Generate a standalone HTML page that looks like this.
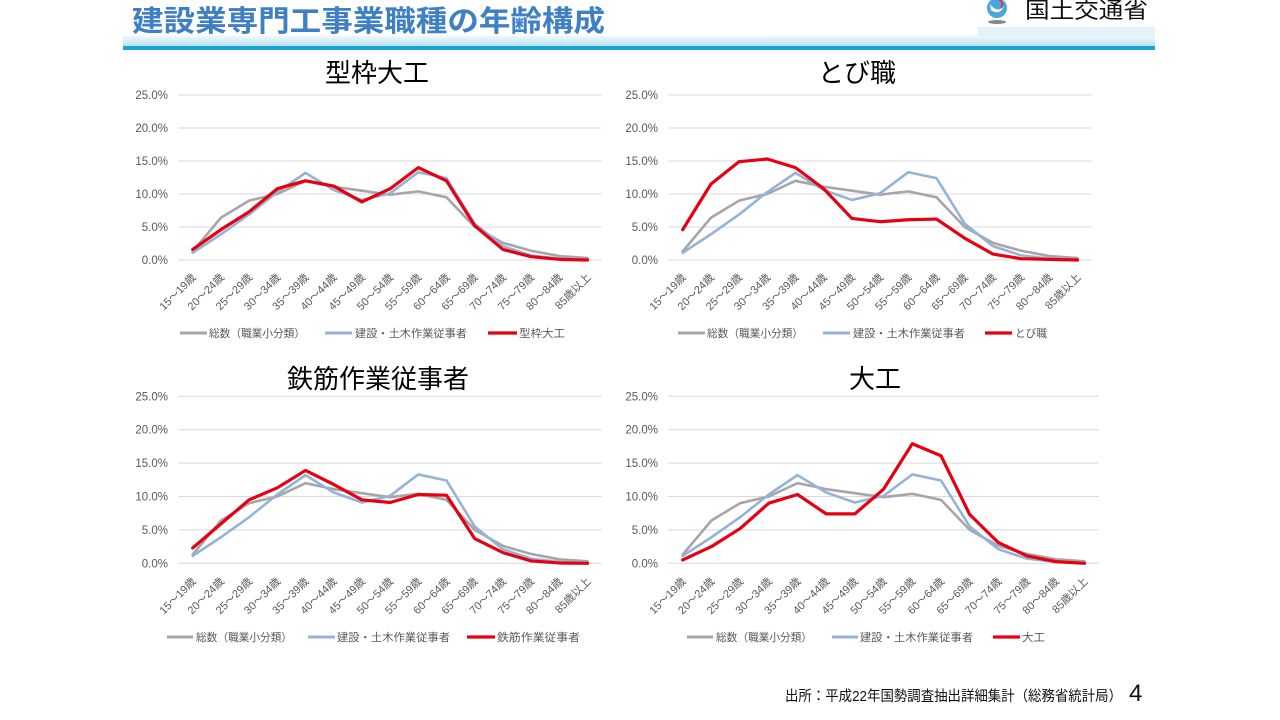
<!DOCTYPE html>
<html><head><meta charset="utf-8"><style>
html,body{margin:0;padding:0;background:#fff;}
svg{display:block;}
.ax{font-family:"Liberation Sans","Noto Sans CJK JP",sans-serif;font-size:11.5px;fill:#595959;}
.xl{font-family:"Liberation Sans","Noto Sans CJK JP",sans-serif;font-size:11px;fill:#595959;}
.lg{font-family:"Liberation Sans","Noto Sans CJK JP",sans-serif;font-size:11px;fill:#595959;}
.tt{font-family:"Liberation Sans","Noto Sans CJK JP",sans-serif;font-size:26px;fill:#000;}
.g{fill:none;stroke:#a6a6a6;stroke-width:2.6;stroke-linejoin:round;stroke-linecap:round;}
.b{fill:none;stroke:#95b3d7;stroke-width:2.6;stroke-linejoin:round;stroke-linecap:round;}
.r{fill:none;stroke:#e60012;stroke-width:3.2;stroke-linejoin:round;stroke-linecap:round;}
.grid line{stroke:#d9d9d9;stroke-width:1;}
</style></head><body>
<svg width="1280" height="720" viewBox="0 0 1280 720" xmlns="http://www.w3.org/2000/svg">
<defs>
<linearGradient id="band" x1="0" y1="0" x2="0" y2="1">
<stop offset="0" stop-color="#eef8fd"/><stop offset="0.5" stop-color="#d3ecf8"/><stop offset="1" stop-color="#b4dff1"/>
</linearGradient>
</defs>
<!-- Header -->
<rect x="978" y="27" width="177" height="10" fill="#e4f3fb"/>
<rect x="123" y="36" width="1032" height="11" fill="url(#band)"/>
<rect x="123" y="46" width="1032" height="4" fill="#1aa3d5"/>
<text x="132" y="31" textLength="473" lengthAdjust="spacingAndGlyphs" style="font-family:'Liberation Sans','Noto Sans CJK JP',sans-serif;font-weight:bold;font-size:29px;fill:#3f7fc6;stroke:#fff;stroke-width:0.6;paint-order:stroke;">建設業専門工事業職種の年齢構成</text>
<circle cx="997" cy="8" r="10" fill="#4aa6de"/>
<path d="M990 4 Q997 14 1004 6 Q1000 16 991 10 Z" fill="#fff"/>
<path d="M999 -1 Q1004 3 1001 8" stroke="#e23b3b" stroke-width="2" fill="none"/>
<ellipse cx="997" cy="22" rx="9" ry="2" fill="#888"/>
<text x="1025" y="18" textLength="123" lengthAdjust="spacingAndGlyphs" style="font-family:'Liberation Sans','Noto Sans CJK JP',sans-serif;font-size:22px;fill:#111;">国土交通省</text>

<!-- ===== Chart TL ===== -->
<g class="grid">
<line x1="178.6" y1="95" x2="601.6" y2="95"/><line x1="178.6" y1="128" x2="601.6" y2="128"/><line x1="178.6" y1="161" x2="601.6" y2="161"/><line x1="178.6" y1="194" x2="601.6" y2="194"/><line x1="178.6" y1="227" x2="601.6" y2="227"/><line x1="178.6" y1="260" x2="601.6" y2="260"/>
</g>
<g class="ax" text-anchor="end">
<text x="168" y="99">25.0%</text><text x="168" y="132">20.0%</text><text x="168" y="165">15.0%</text><text x="168" y="198">10.0%</text><text x="168" y="231">5.0%</text><text x="168" y="264">0.0%</text>
</g>
<text class="tt" x="377" y="82" text-anchor="middle">型枠大工</text>
<g transform="translate(192.7,260) scale(28.2,-6.6)">
<polyline class="g" vector-effect="non-scaling-stroke" points="0,1.3 1,6.4 2,9.0 3,10.0 4,12.0 5,11.1 6,10.5 7,9.9 8,10.4 9,9.5 10,5.0 11,2.6 12,1.4 13,0.6 14,0.3"/>
<polyline class="b" vector-effect="non-scaling-stroke" points="0,1.1 1,3.9 2,6.9 3,10.3 4,13.2 5,10.6 6,9.1 7,10.1 8,13.3 9,12.4 10,5.5 11,2.1 12,0.7 13,0.2 14,0.1"/>
<polyline class="r" vector-effect="non-scaling-stroke" points="0,1.6 1,4.6 2,7.3 3,10.8 4,12.0 5,11.2 6,8.8 7,10.8 8,14.0 9,12.0 10,5.2 11,1.6 12,0.5 13,0.1 14,0.0"/>
</g>
<g class="xl" text-anchor="end" transform="translate(196.7,278)">
<text transform="translate(0,0) rotate(-45)">15～19歳</text><text transform="translate(28.2,0) rotate(-45)">20～24歳</text><text transform="translate(56.4,0) rotate(-45)">25～29歳</text><text transform="translate(84.6,0) rotate(-45)">30～34歳</text><text transform="translate(112.8,0) rotate(-45)">35～39歳</text><text transform="translate(141,0) rotate(-45)">40～44歳</text><text transform="translate(169.2,0) rotate(-45)">45～49歳</text><text transform="translate(197.4,0) rotate(-45)">50～54歳</text><text transform="translate(225.6,0) rotate(-45)">55～59歳</text><text transform="translate(253.8,0) rotate(-45)">60～64歳</text><text transform="translate(282,0) rotate(-45)">65～69歳</text><text transform="translate(310.2,0) rotate(-45)">70～74歳</text><text transform="translate(338.4,0) rotate(-45)">75～79歳</text><text transform="translate(366.6,0) rotate(-45)">80～84歳</text><text transform="translate(394.8,0) rotate(-45)">85歳以上</text>
</g>
<line x1="180" y1="333" x2="207" y2="333" stroke="#a6a6a6" stroke-width="3"/>
<text class="lg" x="209" y="337" textLength="96" lengthAdjust="spacingAndGlyphs">総数（職業小分類）</text>
<line x1="325" y1="333" x2="352" y2="333" stroke="#95b3d7" stroke-width="3"/>
<text class="lg" x="355" y="337" textLength="112" lengthAdjust="spacingAndGlyphs">建設・土木作業従事者</text>
<line x1="488" y1="333" x2="517" y2="333" stroke="#e60012" stroke-width="3.2"/>
<text class="lg" x="519" y="337" textLength="46" lengthAdjust="spacingAndGlyphs">型枠大工</text>

<!-- ===== Chart TR ===== -->
<g class="grid">
<line x1="668.6" y1="95" x2="1091.6" y2="95"/><line x1="668.6" y1="128" x2="1091.6" y2="128"/><line x1="668.6" y1="161" x2="1091.6" y2="161"/><line x1="668.6" y1="194" x2="1091.6" y2="194"/><line x1="668.6" y1="227" x2="1091.6" y2="227"/><line x1="668.6" y1="260" x2="1091.6" y2="260"/>
</g>
<g class="ax" text-anchor="end">
<text x="658" y="99">25.0%</text><text x="658" y="132">20.0%</text><text x="658" y="165">15.0%</text><text x="658" y="198">10.0%</text><text x="658" y="231">5.0%</text><text x="658" y="264">0.0%</text>
</g>
<text class="tt" x="857" y="82" text-anchor="middle">とび職</text>
<g transform="translate(682.7,260) scale(28.2,-6.6)">
<polyline class="g" vector-effect="non-scaling-stroke" points="0,1.3 1,6.4 2,9.0 3,10.0 4,12.0 5,11.1 6,10.5 7,9.9 8,10.4 9,9.5 10,5.0 11,2.6 12,1.4 13,0.6 14,0.3"/>
<polyline class="b" vector-effect="non-scaling-stroke" points="0,1.1 1,3.9 2,6.9 3,10.3 4,13.2 5,10.6 6,9.1 7,10.1 8,13.3 9,12.4 10,5.5 11,2.1 12,0.7 13,0.2 14,0.1"/>
<polyline class="r" vector-effect="non-scaling-stroke" points="0,4.6 1,11.5 2,14.9 3,15.3 4,14.0 5,10.8 6,6.3 7,5.8 8,6.1 9,6.2 10,3.3 11,0.9 12,0.2 13,0.1 14,0.0"/>
</g>
<g class="xl" text-anchor="end" transform="translate(686.7,278)">
<text transform="translate(0,0) rotate(-45)">15～19歳</text><text transform="translate(28.2,0) rotate(-45)">20～24歳</text><text transform="translate(56.4,0) rotate(-45)">25～29歳</text><text transform="translate(84.6,0) rotate(-45)">30～34歳</text><text transform="translate(112.8,0) rotate(-45)">35～39歳</text><text transform="translate(141,0) rotate(-45)">40～44歳</text><text transform="translate(169.2,0) rotate(-45)">45～49歳</text><text transform="translate(197.4,0) rotate(-45)">50～54歳</text><text transform="translate(225.6,0) rotate(-45)">55～59歳</text><text transform="translate(253.8,0) rotate(-45)">60～64歳</text><text transform="translate(282,0) rotate(-45)">65～69歳</text><text transform="translate(310.2,0) rotate(-45)">70～74歳</text><text transform="translate(338.4,0) rotate(-45)">75～79歳</text><text transform="translate(366.6,0) rotate(-45)">80～84歳</text><text transform="translate(394.8,0) rotate(-45)">85歳以上</text>
</g>
<line x1="678" y1="333" x2="705" y2="333" stroke="#a6a6a6" stroke-width="3"/>
<text class="lg" x="707" y="337" textLength="96" lengthAdjust="spacingAndGlyphs">総数（職業小分類）</text>
<line x1="823" y1="333" x2="850" y2="333" stroke="#95b3d7" stroke-width="3"/>
<text class="lg" x="853" y="337" textLength="112" lengthAdjust="spacingAndGlyphs">建設・土木作業従事者</text>
<line x1="985" y1="333" x2="1012" y2="333" stroke="#e60012" stroke-width="3.2"/>
<text class="lg" x="1015" y="337" textLength="32" lengthAdjust="spacingAndGlyphs">とび職</text>

<!-- ===== Chart BL ===== -->
<g class="grid">
<line x1="178.6" y1="396.3" x2="601.6" y2="396.3"/><line x1="178.6" y1="429.7" x2="601.6" y2="429.7"/><line x1="178.6" y1="463.1" x2="601.6" y2="463.1"/><line x1="178.6" y1="496.5" x2="601.6" y2="496.5"/><line x1="178.6" y1="529.9" x2="601.6" y2="529.9"/><line x1="178.6" y1="563.3" x2="601.6" y2="563.3"/>
</g>
<g class="ax" text-anchor="end">
<text x="168" y="400.3">25.0%</text><text x="168" y="433.7">20.0%</text><text x="168" y="467.1">15.0%</text><text x="168" y="500.5">10.0%</text><text x="168" y="533.9">5.0%</text><text x="168" y="567.3">0.0%</text>
</g>
<text class="tt" x="378" y="388" text-anchor="middle">鉄筋作業従事者</text>
<g transform="translate(192.7,563.3) scale(28.2,-6.68)">
<polyline class="g" vector-effect="non-scaling-stroke" points="0,1.3 1,6.4 2,9.0 3,10.0 4,12.0 5,11.1 6,10.5 7,9.9 8,10.4 9,9.5 10,5.0 11,2.6 12,1.4 13,0.6 14,0.3"/>
<polyline class="b" vector-effect="non-scaling-stroke" points="0,1.1 1,3.9 2,6.9 3,10.3 4,13.2 5,10.6 6,9.1 7,10.1 8,13.3 9,12.4 10,5.5 11,2.1 12,0.7 13,0.2 14,0.1"/>
<polyline class="r" vector-effect="non-scaling-stroke" points="0,2.3 1,5.9 2,9.5 3,11.3 4,13.9 5,11.8 6,9.5 7,9.1 8,10.3 9,10.2 10,3.7 11,1.6 12,0.35 13,0.05 14,0.0"/>
</g>
<g class="xl" text-anchor="end" transform="translate(196.7,582)">
<text transform="translate(0,0) rotate(-45)">15～19歳</text><text transform="translate(28.2,0) rotate(-45)">20～24歳</text><text transform="translate(56.4,0) rotate(-45)">25～29歳</text><text transform="translate(84.6,0) rotate(-45)">30～34歳</text><text transform="translate(112.8,0) rotate(-45)">35～39歳</text><text transform="translate(141,0) rotate(-45)">40～44歳</text><text transform="translate(169.2,0) rotate(-45)">45～49歳</text><text transform="translate(197.4,0) rotate(-45)">50～54歳</text><text transform="translate(225.6,0) rotate(-45)">55～59歳</text><text transform="translate(253.8,0) rotate(-45)">60～64歳</text><text transform="translate(282,0) rotate(-45)">65～69歳</text><text transform="translate(310.2,0) rotate(-45)">70～74歳</text><text transform="translate(338.4,0) rotate(-45)">75～79歳</text><text transform="translate(366.6,0) rotate(-45)">80～84歳</text><text transform="translate(394.8,0) rotate(-45)">85歳以上</text>
</g>
<line x1="167" y1="637" x2="193" y2="637" stroke="#a6a6a6" stroke-width="3"/>
<text class="lg" x="196" y="641" textLength="96" lengthAdjust="spacingAndGlyphs">総数（職業小分類）</text>
<line x1="308" y1="637" x2="335" y2="637" stroke="#95b3d7" stroke-width="3"/>
<text class="lg" x="337" y="641" textLength="113" lengthAdjust="spacingAndGlyphs">建設・土木作業従事者</text>
<line x1="467" y1="637" x2="495" y2="637" stroke="#e60012" stroke-width="3.2"/>
<text class="lg" x="497" y="641" textLength="83" lengthAdjust="spacingAndGlyphs">鉄筋作業従事者</text>

<!-- ===== Chart BR ===== -->
<g class="grid">
<line x1="668" y1="396.3" x2="1098.5" y2="396.3"/><line x1="668" y1="429.7" x2="1098.5" y2="429.7"/><line x1="668" y1="463.1" x2="1098.5" y2="463.1"/><line x1="668" y1="496.5" x2="1098.5" y2="496.5"/><line x1="668" y1="529.9" x2="1098.5" y2="529.9"/><line x1="668" y1="563.3" x2="1098.5" y2="563.3"/>
</g>
<g class="ax" text-anchor="end">
<text x="658" y="400.3">25.0%</text><text x="658" y="433.7">20.0%</text><text x="658" y="467.1">15.0%</text><text x="658" y="500.5">10.0%</text><text x="658" y="533.9">5.0%</text><text x="658" y="567.3">0.0%</text>
</g>
<text class="tt" x="875" y="388" text-anchor="middle">大工</text>
<g transform="translate(682.7,563.3) scale(28.7,-6.68)">
<polyline class="g" vector-effect="non-scaling-stroke" points="0,1.3 1,6.4 2,9.0 3,10.0 4,12.0 5,11.1 6,10.5 7,9.9 8,10.4 9,9.5 10,5.0 11,2.6 12,1.4 13,0.6 14,0.3"/>
<polyline class="b" vector-effect="non-scaling-stroke" points="0,1.1 1,3.9 2,6.9 3,10.3 4,13.2 5,10.6 6,9.1 7,10.1 8,13.3 9,12.4 10,5.5 11,2.1 12,0.7 13,0.2 14,0.1"/>
<polyline class="r" vector-effect="non-scaling-stroke" points="0,0.5 1,2.5 2,5.2 3,9.0 4,10.3 5,7.4 6,7.4 7,11.1 8,17.9 9,16.1 10,7.3 11,3.1 12,1.1 13,0.25 14,0.0"/>
</g>
<g class="xl" text-anchor="end" transform="translate(686.7,582)">
<text transform="translate(0,0) rotate(-45)">15～19歳</text><text transform="translate(28.7,0) rotate(-45)">20～24歳</text><text transform="translate(57.4,0) rotate(-45)">25～29歳</text><text transform="translate(86.1,0) rotate(-45)">30～34歳</text><text transform="translate(114.8,0) rotate(-45)">35～39歳</text><text transform="translate(143.5,0) rotate(-45)">40～44歳</text><text transform="translate(172.2,0) rotate(-45)">45～49歳</text><text transform="translate(200.9,0) rotate(-45)">50～54歳</text><text transform="translate(229.6,0) rotate(-45)">55～59歳</text><text transform="translate(258.3,0) rotate(-45)">60～64歳</text><text transform="translate(287,0) rotate(-45)">65～69歳</text><text transform="translate(315.7,0) rotate(-45)">70～74歳</text><text transform="translate(344.4,0) rotate(-45)">75～79歳</text><text transform="translate(373.1,0) rotate(-45)">80～84歳</text><text transform="translate(401.8,0) rotate(-45)">85歳以上</text>
</g>
<line x1="687" y1="637" x2="713" y2="637" stroke="#a6a6a6" stroke-width="3"/>
<text class="lg" x="716" y="641" textLength="96" lengthAdjust="spacingAndGlyphs">総数（職業小分類）</text>
<line x1="832" y1="637" x2="858" y2="637" stroke="#95b3d7" stroke-width="3"/>
<text class="lg" x="860" y="641" textLength="113" lengthAdjust="spacingAndGlyphs">建設・土木作業従事者</text>
<line x1="993" y1="637" x2="1020" y2="637" stroke="#e60012" stroke-width="3.2"/>
<text class="lg" x="1022" y="641" textLength="23" lengthAdjust="spacingAndGlyphs">大工</text>

<!-- Footer -->
<text x="785" y="701" textLength="337" lengthAdjust="spacingAndGlyphs" style="font-family:'Liberation Sans','Noto Sans CJK JP',sans-serif;font-size:14.5px;fill:#111;">出所：平成22年国勢調査抽出詳細集計（総務省統計局）</text>
<text x="1129" y="701" style="font-family:'Liberation Sans',sans-serif;font-size:24px;fill:#111;">4</text>
</svg>
</body></html>
